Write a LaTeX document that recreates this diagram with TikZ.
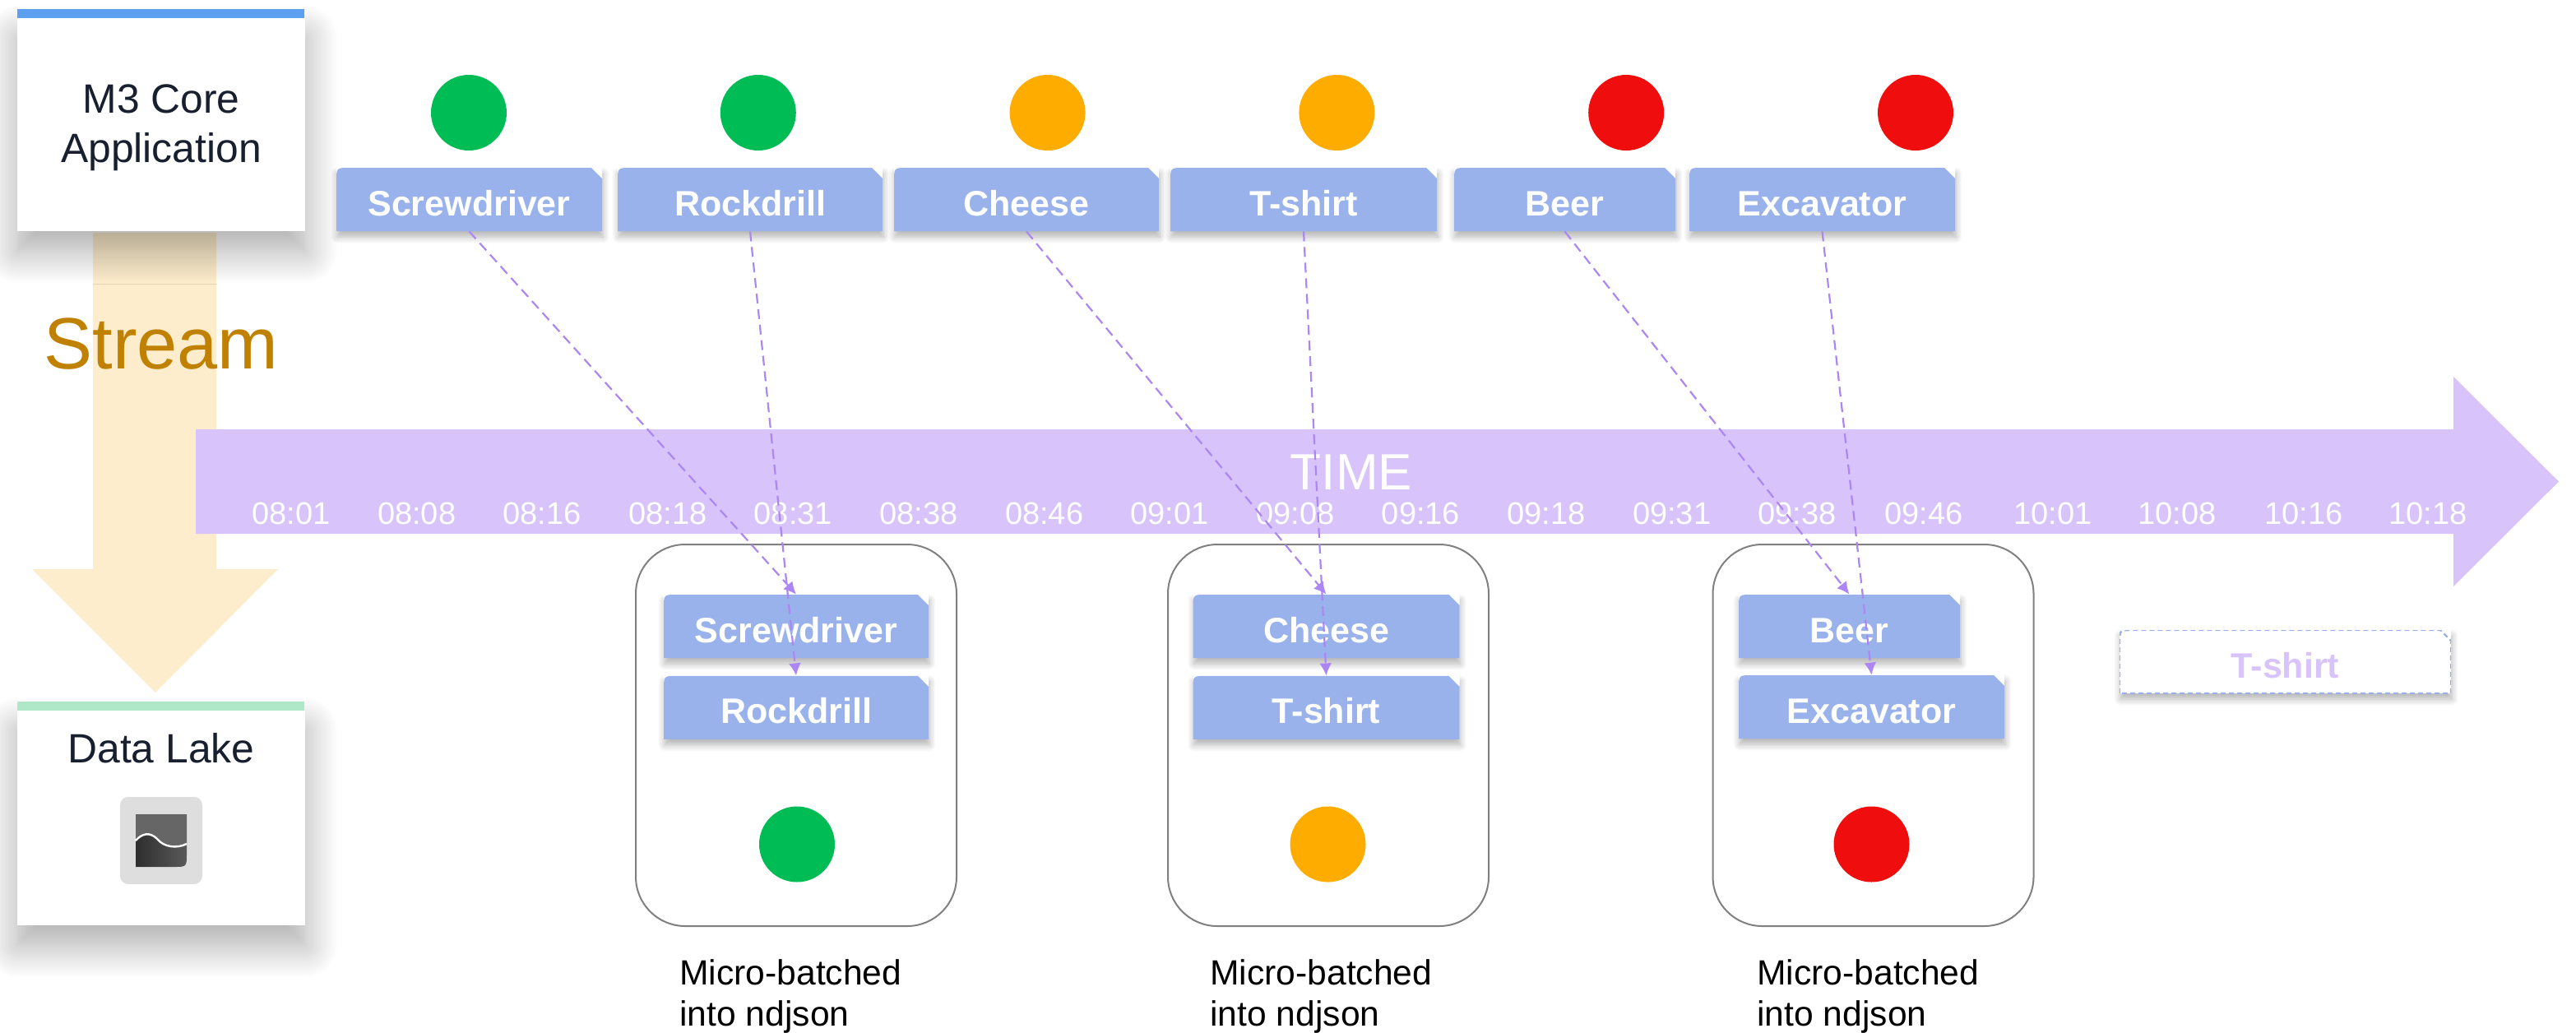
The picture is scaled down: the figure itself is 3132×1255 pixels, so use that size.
\documentclass[tikz,border=0pt]{standalone}
\usepackage{fontspec}
\setmainfont{Liberation Sans}
\usetikzlibrary{positioning,shapes,arrows.meta,shadows.blur}

\definecolor{tagblue}{HTML}{99B2EC}
\definecolor{timelilac}{HTML}{D8C4FA}
\definecolor{streamsand}{HTML}{FDEDCC}
\definecolor{streamtext}{HTML}{C08000}
\definecolor{flowline}{HTML}{AC87F4}
\definecolor{boxtext}{HTML}{18202F}
\definecolor{okgreen}{HTML}{00BC55}
\definecolor{warnorange}{HTML}{FFAC00}
\definecolor{stopred}{HTML}{F00D0D}
\definecolor{barblue}{HTML}{5DA0F0}
\definecolor{barmint}{HTML}{AFE8C8}

\tikzset{
	tagshape/.style={path picture={
		\fill[white] (path picture bounding box.south west) rectangle (path picture bounding box.north east);
		\path[#1] (path picture bounding box.south west) -- ([yshift=-8pt]path picture bounding box.north west)
			.. controls (path picture bounding box.north west) .. ([xshift=8pt]path picture bounding box.north west)
			-- ([xshift=-6.5pt]path picture bounding box.north east) -- ([yshift=-6.5pt]path picture bounding box.north east)
			-- (path picture bounding box.south east) -- cycle;
	}},
	tagbox/.style={rectangle,inner sep=0pt,minimum height=38.5pt,text height=20pt,text depth=.5pt,
		font=\fontsize{21.5}{25}\selectfont\bfseries,text=white,tagshape={fill=tagblue},
		blur shadow={shadow xshift=.5pt,shadow yshift=-3.5pt,shadow blur radius=4pt,shadow blur steps=8,shadow opacity=30}},
	ghostbox/.style={tagbox,text=timelilac,tagshape={fill=white,draw=tagblue,densely dashed,line width=1.2pt}},
	sysbox/.style={rectangle,fill=white,inner sep=0pt,minimum width=175pt,
		blur shadow={shadow xshift=0pt,shadow yshift=-12pt,shadow blur radius=20pt,shadow blur steps=18,shadow opacity=34}},
	systext/.style={text=boxtext,inner sep=0pt,align=center,font=\fontsize{24.9}{30}\selectfont},
	batchbox/.style={rectangle,rounded corners=30pt,draw=gray,line width=1pt,minimum width=195pt,minimum height=232pt},
	lamp/.style={circle,inner sep=0pt,minimum size=46pt},
	tick/.style={text=white,inner sep=0pt,font=\fontsize{19}{23}\selectfont},
	caption/.style={inner sep=0pt,align=left,font=\fontsize{21.3}{25}\selectfont},
	flow/.style={->,flowline,line width=1.1pt,dash pattern=on 6pt off 3.5pt,>={Latex[length=7.5pt,width=7.5pt]}}
}

\begin{document}
\begin{tikzpicture}[x=.5pt,y=-.5pt]
	\useasboundingbox (0,0) rectangle (3132,1255);

	% stream arrow
	\fill[streamsand] (113,283) -- (263,283) -- (263,692) -- (338,692) -- (189,842) -- (39,692) -- (113,692) -- cycle;

	\node[sysbox,minimum height=129.5pt] (m3core) at (196,151.5) {};
	\node[systext] (m3title) at (196,155) {M3 Core\\Application};
	\node[sysbox,minimum height=130.5pt] (lake) at (196,994.5) {};
	\node[systext] (laketitle) at (196,910) {Data Lake};
	\fill[barblue] (21,11) rectangle (370,22);
	\fill[barmint] (21,853) rectangle (370,864);

	% time arrow
	\fill[timelilac] (238,522) -- (2983,522) -- (2983,458) -- (3111,585.5) -- (2983,713) -- (2983,649) -- (238,649) -- cycle;
	\node[text=white,inner sep=0pt,font=\fontsize{31}{36}\selectfont] (time) at (1643,574) {TIME};
	\foreach \t [count=\i from 0] in {08:01,08:08,08:16,08:18,08:31,08:38,08:46,09:01,09:08,09:16,09:18,09:31,09:38}
		\node[tick] (t\i) at (354+\i*152.6,624) {\t};
	\foreach \t/\x in {09:46/2339,10:01/2496,10:08/2647,10:16/2801,10:18/2952}
		\node[tick] (t\x) at (\x,624) {\t};

	\node[text=streamtext,inner sep=0pt,font=\fontsize{44.2}{50}\selectfont] (stream) at (196,418) {Stream};

	% lake icon
	\node[rectangle,rounded corners=5pt,fill=black!13,inner sep=0pt,minimum width=50pt,minimum height=53pt] (icon) at (196,1022) {};
	\fill[black!60] (165,990) -- (227,990) -- (227,1026) .. controls (215,1032) and (200,1030) .. (192,1021) .. controls (182,1010) and (172,1014) .. (165,1022) -- cycle;
	\shade[left color=black!82,right color=black!65] (165,1022) .. controls (172,1014) and (182,1010) .. (192,1021) .. controls (200,1030) and (215,1032) .. (227,1026) -- (227,1038) .. controls (227,1054) .. (211,1054) -- (165,1054) -- cycle;
	\draw[white,line width=1.2pt] (165,1022) .. controls (172,1014) and (182,1010) .. (192,1021) .. controls (200,1030) and (215,1032) .. (227,1026);

	\foreach \x/\c [count=\i] in {570/okgreen,921.8/okgreen,1273.6/warnorange,1625.4/warnorange,1977.2/stopred,2329/stopred}
		\node[lamp,fill=\c] (lamp\i) at (\x,137) {};

	% incoming events
	\node[tagbox,minimum width=161.5pt] (screwdriver) at (570.5,242.5) {Screwdriver};
	\node[tagbox,minimum width=161pt] (rockdrill) at (912,242.5) {Rockdrill};
	\node[tagbox,minimum width=161pt] (cheese) at (1248,242.5) {Cheese};
	\node[tagbox,minimum width=162pt] (tshirt) at (1585,242.5) {T-shirt};
	\node[tagbox,minimum width=134.5pt] (beer) at (1902.5,242.5) {Beer};
	\node[tagbox,minimum width=161.5pt] (excavator) at (2215.5,242.5) {Excavator};

	% batches
	\node[batchbox] (batcha) at (968,894) {};
	\node[batchbox] (batchb) at (1615,894) {};
	\node[batchbox] (batchc) at (2277.5,894) {};

	\node[tagbox,minimum width=161pt] (screwdrivertwo) at (968,761.5) {Screwdriver};
	\node[tagbox,minimum width=161pt,below=10.5pt of screwdrivertwo] (rockdrilltwo) {Rockdrill};
	\node[tagbox,minimum width=162pt] (cheesetwo) at (1612.5,761.5) {Cheese};
	\node[tagbox,minimum width=162pt,below=10.5pt of cheesetwo] (tshirttwo) {T-shirt};
	\node[tagbox,minimum width=134.5pt] (beertwo) at (2248.5,761.5) {Beer};
	\node[tagbox,minimum width=161.5pt] (excavatortwo) at (2275.5,859.5) {Excavator};

	\node[lamp,fill=okgreen] (lampa) at (969,1026.5) {};
	\node[lamp,fill=warnorange] (lampb) at (1614.5,1026.5) {};
	\node[lamp,fill=stopred] (lampc) at (2275.5,1026.5) {};

	\node[ghostbox,minimum width=201.5pt] (tshirtthree) at (2778.5,804.5) {T-shirt};

	\node[caption,anchor=north west] (capa) at (826,1166) {Micro-batched\\into ndjson};
	\node[caption,anchor=north west] (capb) at (1471,1166) {Micro-batched\\into ndjson};
	\node[caption,anchor=north west] (capc) at (2136,1166) {Micro-batched\\into ndjson};

	\draw[flow] (screwdriver.south) -- (screwdrivertwo.north);
	\draw[flow] (rockdrill.south) -- (rockdrilltwo.north);
	\draw[flow] (cheese.south) -- (cheesetwo.north);
	\draw[flow] (tshirt.south) -- (tshirttwo.north);
	\draw[flow] (beer.south) -- (beertwo.north);
	\draw[flow] (excavator.south) -- (excavatortwo.north);
\end{tikzpicture}
\end{document}
